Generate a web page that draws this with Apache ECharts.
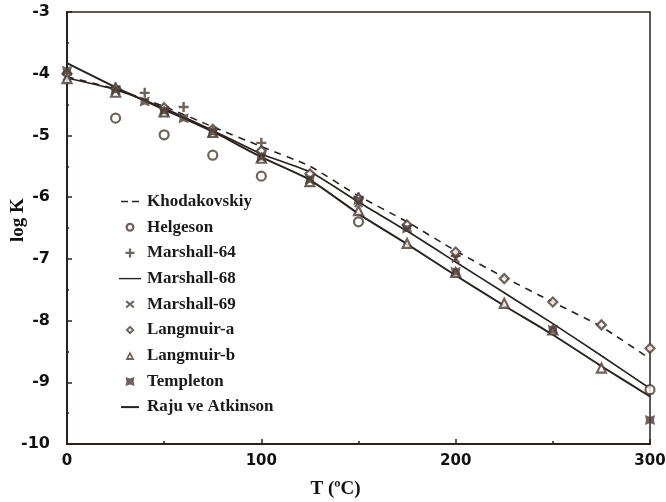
<!DOCTYPE html>
<html><head><meta charset="utf-8">
<script src="https://cdn.jsdelivr.net/npm/echarts@6/dist/echarts.min.js"></script>
<style>html,body{margin:0;padding:0;background:#fff}#c{width:666px;height:502px}</style>
</head><body><div id="c"></div>
<script>
// ---- data ----
const temps = [0, 25, 50, 75, 100, 125, 150, 175, 200, 225, 250, 275, 300];
const khodakovskiy = [-4.05, -4.25, -4.53, -4.86, -5.18, -5.5, -5.98, -6.4, -6.87, -7.3, -7.7, -8.1, -8.62];
const marshall68 = [-4.07, -4.26, -4.56, -4.92, -5.3, -5.59, -6.08, -6.55, -7.05, -7.55, -8.05, -8.57, -9.1];
const raju = [-3.83, -4.22, -4.58, -4.94, -5.35, -5.72, -6.27, -6.76, -7.27, -7.76, -8.23, -8.74, -9.23];
const helgesonT = [25, 50, 75, 100, 150, 300];
const helgeson = [-4.72, -4.99, -5.32, -5.66, -6.40, -9.12];
const marshall64T = [25, 40, 60, 100, 150, 200];
const marshall64 = [-4.22, -4.31, -4.54, -5.12, -6.0, -6.95];
const marshall69T = [0, 25, 50, 75, 100, 150, 200];
const marshall69 = [-4.05, -4.28, -4.64, -4.97, -5.37, -6.1, -7.0];
const langmuirAT = [0, 25, 50, 75, 100, 125, 150, 175, 200, 225, 250, 275, 300];
const langmuirA = [-4.0, -4.24, -4.55, -4.9, -5.25, -5.62, -6.02, -6.45, -6.89, -7.32, -7.70, -8.07, -8.45];
const langmuirBT = [0, 25, 50, 75, 100, 125, 150, 175, 200, 225, 250, 275];
const langmuirB = [-4.08, -4.3, -4.62, -4.95, -5.37, -5.75, -6.22, -6.75, -7.22, -7.72, -8.15, -8.77];
const templetonT = [0, 25, 40, 50, 60, 75, 100, 125, 150, 175, 200, 250, 300];
const templeton = [-3.95, -4.26, -4.45, -4.6, -4.72, -4.94, -5.35, -5.72, -6.05, -6.51, -7.21, -8.15, -9.61];
const xTicks = [0, 100, 200, 300];
const yTicks = [-10, -9, -8, -7, -6, -5, -4, -3];

const pair = (xs, ys) => xs.map((x, i) => [x, ys[i]]);
const ink = '#2a2220';
const mark = '#4a3c37';
const PLUS = 'path://M3.8,0H6.2V3.8H10V6.2H6.2V10H3.8V6.2H0V3.8H3.8Z';
const CROSS = 'path://M1.6,0L5,3.4L8.4,0L10,1.6L6.6,5L10,8.4L8.4,10L5,6.6L1.6,10L0,8.4L3.4,5L0,1.6Z';
const BOWTIE = 'path://M0,0L5,2L10,0L9,5L10,10L5,8L0,10L1,5Z';
// legend icons padded to a 24x14 box (invisible moveTo corners), filled shapes
const PAD = 'M0,0M24,14';
const LG = {
  dash: 'path://' + PAD + 'M3,6.2H10V7.8H3Z M14,6.2H21V7.8H14Z',
  line: 'path://' + PAD + 'M1,6.3H23V7.7H1Z',
  lineShort: 'path://' + PAD + 'M3,6H21V8H3Z',
  circle: 'path://' + PAD + 'M16.5,7A4.5,4.5,0,1,1,7.5,7A4.5,4.5,0,1,1,16.5,7Z M14.2,7A2.2,2.2,0,1,0,9.8,7A2.2,2.2,0,1,0,14.2,7Z',
  plus: 'path://' + PAD + 'M10.9,2.5H13.1V5.9H16.5V8.1H13.1V11.5H10.9V8.1H7.5V5.9H10.9Z',
  cross: 'path://' + PAD + 'M8.8,3L12,5.7L15.2,3L16.5,4.6L13.6,7L16.5,9.4L15.2,11L12,8.3L8.8,11L7.5,9.4L10.4,7L7.5,4.6Z',
  diamond: 'path://' + PAD + 'M12,2.5L16.5,7L12,11.5L7.5,7Z M12,5.3L10.3,7L12,8.7L13.7,7Z',
  triangle: 'path://' + PAD + 'M12,2.5L16.5,11.2H7.5Z M12,6.4L10.4,9.4H13.6Z',
  bowtie: 'path://' + PAD + 'M7.5,2.5L12,4L16.5,2.5L15.6,7L16.5,11.5L12,10L7.5,11.5L8.4,7Z'
};
const solid = {color: mark, borderWidth: 0};

const chart = echarts.init(document.getElementById('c'), null, {renderer: 'canvas'});
chart.setOption({
  animation: false,
  backgroundColor: '#fff',
  grid: {left: 67, right: 16, top: 12, bottom: 58, show: true, borderColor: ink, borderWidth: 1.5,
    outerBoundsMode: 'none', containLabel: false},
  xAxis: {
    type: 'value', min: 0, max: 300, interval: 100,
    name: 'T (ºC)', nameLocation: 'middle', nameGap: 36, nameMoveOverlap: false,
    nameTextStyle: {fontFamily: 'Liberation Serif', fontWeight: 'bold', fontSize: 19, color: '#111', padding: [0, 46, 0, 0]},
    axisLine: {lineStyle: {color: ink, width: 2}},
    axisTick: {inside: true, length: 5, lineStyle: {color: ink, width: 1.5}},
    minorTick: {show: true, splitNumber: 2, length: 3, lineStyle: {color: ink, width: 1.5}},
    splitLine: {show: false},
    axisLabel: {margin: 10, fontFamily: 'DejaVu Sans', fontWeight: 'bold', fontSize: 15, color: '#111',
      formatter: v => xTicks.includes(v) ? String(v) : ''}
  },
  yAxis: {
    type: 'value', min: -10, max: -3, interval: 1,
    name: 'log K', nameLocation: 'middle', nameGap: 39, nameRotate: 90, nameMoveOverlap: false,
    nameTextStyle: {fontFamily: 'Liberation Serif', fontWeight: 'bold', fontSize: 19, color: '#111', padding: [0, 0, 0, 16]},
    axisLine: {lineStyle: {color: ink, width: 2}},
    axisTick: {inside: true, length: 5, lineStyle: {color: ink, width: 1.5}},
    minorTick: {show: true, splitNumber: 2, length: 2, lineStyle: {color: ink, width: 1.5}},
    splitLine: {show: false},
    axisLabel: {margin: 17, fontFamily: 'DejaVu Sans', fontWeight: 'bold', fontSize: 16, color: '#111',
      formatter: v => yTicks.includes(v) ? String(v) : ''}
  },
  legend: {
    orient: 'vertical', left: 113, top: 188, itemGap: 8.7, itemWidth: 24, itemHeight: 14,
    textStyle: {fontFamily: 'Liberation Serif', fontWeight: 'bold', fontSize: 17, lineHeight: 16, color: '#1a1a1a'},
    data: [
      {name: 'Khodakovskiy', icon: LG.dash, itemStyle: {color: ink, borderWidth: 0}},
      {name: 'Helgeson', icon: LG.circle, itemStyle: solid},
      {name: 'Marshall-64', icon: LG.plus, itemStyle: solid},
      {name: 'Marshall-68', icon: LG.line, itemStyle: {color: ink, borderWidth: 0}},
      {name: 'Marshall-69', icon: LG.cross, itemStyle: solid},
      {name: 'Langmuir-a', icon: LG.diamond, itemStyle: solid},
      {name: 'Langmuir-b', icon: LG.triangle, itemStyle: solid},
      {name: 'Templeton', icon: LG.bowtie, itemStyle: solid},
      {name: 'Raju ve Atkinson', icon: LG.lineShort, itemStyle: {color: ink, borderWidth: 0}}
    ]
  },
  series: [
    {name: 'Khodakovskiy', type: 'line', data: pair(temps, khodakovskiy), symbol: 'none', smooth: 0.2,
      lineStyle: {color: ink, width: 1.6, type: [7, 6]}, itemStyle: {color: ink}, z: 3},
    {name: 'Marshall-68', type: 'line', data: pair(temps, marshall68), symbol: 'none', smooth: 0.2,
      lineStyle: {color: ink, width: 1.7}, itemStyle: {color: ink}, z: 3},
    {name: 'Raju ve Atkinson', type: 'line', data: pair(temps, raju), symbol: 'none', smooth: 0.2,
      lineStyle: {color: ink, width: 2}, itemStyle: {color: ink}, z: 3},
    {name: 'Helgeson', type: 'scatter', data: pair(helgesonT, helgeson), symbol: 'circle', symbolSize: 9,
      itemStyle: {color: '#fff', borderColor: mark, borderWidth: 2.2}, z: 5},
    {name: 'Marshall-64', type: 'scatter', data: pair(marshall64T, marshall64), symbol: PLUS, symbolSize: 10,
      itemStyle: {color: mark}, z: 5},
    {name: 'Marshall-69', type: 'scatter', data: pair(marshall69T, marshall69), symbol: CROSS, symbolSize: 9,
      itemStyle: {color: mark}, z: 5},
    {name: 'Langmuir-a', type: 'scatter', data: pair(langmuirAT, langmuirA), symbol: 'diamond', symbolSize: 9,
      itemStyle: {color: '#fff', borderColor: mark, borderWidth: 2.2}, z: 5},
    {name: 'Langmuir-b', type: 'scatter', data: pair(langmuirBT, langmuirB), symbol: 'triangle', symbolSize: 9,
      itemStyle: {color: '#fff', borderColor: mark, borderWidth: 2.2}, z: 5},
    {name: 'Templeton', type: 'scatter', data: pair(templetonT, templeton), symbol: BOWTIE, symbolSize: 10,
      itemStyle: {color: mark}, z: 5}
  ]
});
</script></body></html>
